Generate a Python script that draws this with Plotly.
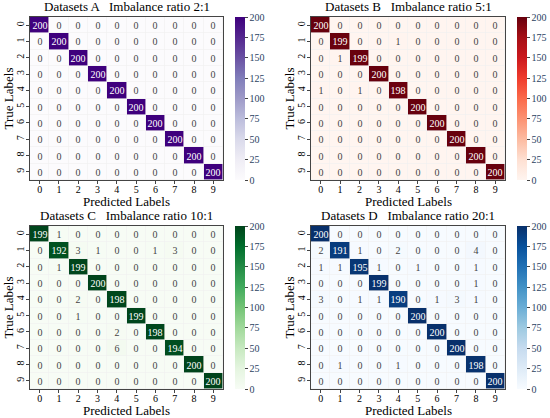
import plotly.graph_objects as go

labels = ["0", "1", "2", "3", "4", "5", "6", "7", "8", "9"]

cm_a = [[200 if i == j else 0 for j in range(10)] for i in range(10)]

cm_b = [
    [200, 0, 0, 0, 0, 0, 0, 0, 0, 0],
    [0, 199, 0, 0, 1, 0, 0, 0, 0, 0],
    [0, 1, 199, 0, 0, 0, 0, 0, 0, 0],
    [0, 0, 0, 200, 0, 0, 0, 0, 0, 0],
    [1, 0, 1, 0, 198, 0, 0, 0, 0, 0],
    [0, 0, 0, 0, 0, 200, 0, 0, 0, 0],
    [0, 0, 0, 0, 0, 0, 200, 0, 0, 0],
    [0, 0, 0, 0, 0, 0, 0, 200, 0, 0],
    [0, 0, 0, 0, 0, 0, 0, 0, 200, 0],
    [0, 0, 0, 0, 0, 0, 0, 0, 0, 200],
]

cm_c = [
    [199, 1, 0, 0, 0, 0, 0, 0, 0, 0],
    [0, 192, 3, 1, 0, 0, 1, 3, 0, 0],
    [0, 1, 199, 0, 0, 0, 0, 0, 0, 0],
    [0, 0, 0, 200, 0, 0, 0, 0, 0, 0],
    [0, 0, 2, 0, 198, 0, 0, 0, 0, 0],
    [0, 0, 1, 0, 0, 199, 0, 0, 0, 0],
    [0, 0, 0, 0, 2, 0, 198, 0, 0, 0],
    [0, 0, 0, 0, 6, 0, 0, 194, 0, 0],
    [0, 0, 0, 0, 0, 0, 0, 0, 200, 0],
    [0, 0, 0, 0, 0, 0, 0, 0, 0, 200],
]

cm_d = [
    [200, 0, 0, 0, 0, 0, 0, 0, 0, 0],
    [2, 191, 1, 0, 2, 0, 0, 0, 4, 0],
    [1, 1, 195, 1, 0, 1, 0, 0, 1, 0],
    [0, 0, 0, 199, 0, 0, 0, 0, 1, 0],
    [3, 0, 1, 1, 190, 0, 1, 3, 1, 0],
    [0, 0, 0, 0, 0, 200, 0, 0, 0, 0],
    [0, 0, 0, 0, 0, 0, 200, 0, 0, 0],
    [0, 0, 0, 0, 0, 0, 0, 200, 0, 0],
    [0, 1, 0, 0, 1, 0, 0, 0, 198, 0],
    [0, 0, 0, 0, 0, 0, 0, 0, 0, 200],
]

titles = ["Datasets A   Imbalance ratio 2:1", "Datasets B   Imbalance ratio 5:1",
          "Datasets C   Imbalance ratio 10:1", "Datasets D   Imbalance ratio 20:1"]
scales = ["Purples", "Reds", "Greens", "Blues"]
mats = [cm_a, cm_b, cm_c, cm_d]

W, H = 550, 418
FONT = "Liberation Serif"
# pixel boxes of each heatmap: left, right, top, bottom ; colorbar left
boxes = [(30, 223, 17, 180, 235), (311, 505, 17, 180, 517),
         (30, 223, 226, 389, 235), (311, 505, 226, 389, 517)]

fig = go.Figure()
anns = []
for k, (cm, sc, ttl, box) in enumerate(zip(mats, scales, titles, boxes)):
    l, r, t, b, cbx = box
    xd = [l / W, r / W]
    yd = [1 - b / H, 1 - t / H]
    n = "" if k == 0 else str(k + 1)
    fig.add_trace(go.Heatmap(
        z=cm, x=labels, y=labels, colorscale=sc, zmin=0, zmax=200,
        xgap=0.6, ygap=0.6,
        text=[[str(v) for v in row] for row in cm], texttemplate="%{text}",
        textfont=dict(family=FONT, size=10),
        xaxis="x" + n, yaxis="y" + n,
        colorbar=dict(x=cbx / W, xanchor="left", y=(yd[0] + yd[1]) / 2, yanchor="middle",
                      len=(b - t) / H, thickness=10, outlinewidth=0, xpad=0, ypad=0,
                      tickvals=list(range(0, 201, 25)), ticks="outside", ticklen=3,
                      tickfont=dict(family=FONT, size=10)),
    ))
    axcommon = dict(showline=True, mirror=True, linecolor="#444", linewidth=1,
                    ticks="outside", ticklen=3, tickfont=dict(family=FONT, size=10, color="black"),
                    showgrid=False, zeroline=False, fixedrange=True)
    fig.update_layout(**{
        "xaxis" + n: dict(domain=xd, anchor="y" + n, ticklabelstandoff=-3, **axcommon),
        "yaxis" + n: dict(domain=yd, anchor="x" + n, autorange="reversed", tickangle=-90,
                          ticklabelstandoff=-2, **axcommon),
    })
    cx = (l + r) / 2 / W
    anns.append(dict(text=ttl, x=cx, y=1 - (t - 1) / H, xref="paper", yref="paper",
                     xanchor="center", yanchor="bottom", showarrow=False,
                     font=dict(family=FONT, size=13, color="black")))
    anns.append(dict(text="Predicted Labels", x=cx, y=1 - (b + 21) / H, xref="paper", yref="paper",
                     xanchor="center", yanchor="middle", showarrow=False,
                     font=dict(family=FONT, size=13, color="black")))
    anns.append(dict(text="True Labels", x=(l - 22) / W, y=(yd[0] + yd[1]) / 2, xref="paper", yref="paper",
                     xanchor="center", yanchor="middle", textangle=-90, showarrow=False,
                     font=dict(family=FONT, size=13, color="black")))

fig.update_layout(width=W, height=H, margin=dict(l=0, r=0, t=0, b=0),
                  paper_bgcolor="white", plot_bgcolor="#f0f0f0",
                  annotations=anns, font=dict(family=FONT))
fig.write_html("out.html", config={"displayModeBar": False},
               post_script="document.body.style.margin='0';")
